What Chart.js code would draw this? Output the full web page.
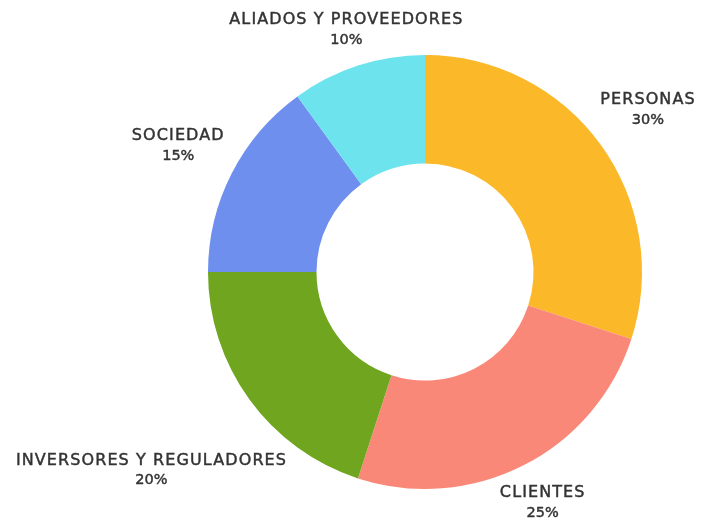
<!DOCTYPE html>
<html>
<head>
<meta charset="utf-8">
<script src="https://cdn.jsdelivr.net/npm/chart.js@4/dist/chart.umd.min.js"></script>
<style>
  html, body { margin: 0; padding: 0; background: #ffffff; }
  #wrap { width: 701px; height: 525px; }
</style>
</head>
<body>
<div id="wrap"><canvas id="c" width="701" height="525"></canvas></div>
<script>
// ---- data ----
const categories = ['Personas', 'Clientes', 'Inversores y reguladores', 'Sociedad', 'Aliados y proveedores'];
const shares = [30, 25, 20, 15, 10];
const sliceColors = ['#FBB829', '#FA8878', '#6FA51F', '#6E8FEE', '#6DE3EE'];
// ---- label style: distance of each label block from the centre, relative to the outer radius ----
const labelDistance = [1.27, 1.195, 1.558, 1.276, 1.172];

const labelPlugin = {
  id: 'outerLabels',
  afterDatasetsDraw(chart) {
    const ctx = chart.ctx;
    const meta = chart.getDatasetMeta(0);
    ctx.save();
    ctx.fillStyle = '#333333';
    ctx.strokeStyle = '#333333';
    ctx.lineWidth = 0.45;
    ctx.textAlign = 'center';
    ctx.textBaseline = 'middle';
    meta.data.forEach((arc, i) => {
      const p = arc.getProps(['x', 'y', 'startAngle', 'endAngle', 'outerRadius'], true);
      const mid = (p.startAngle + p.endAngle) / 2;
      const d = p.outerRadius * labelDistance[i];
      const cx = p.x + Math.cos(mid) * d;
      const cy = p.y + Math.sin(mid) * d;
      const name = categories[i].toUpperCase();
      const pct = shares[i] + '%';
      if ('letterSpacing' in ctx) ctx.letterSpacing = '1.1px';
      ctx.font = '16px "DejaVu Sans", sans-serif';
      ctx.fillText(name, cx, cy - 10);
      ctx.strokeText(name, cx, cy - 10);
      if ('letterSpacing' in ctx) ctx.letterSpacing = '0px';
      ctx.font = '14.5px "DejaVu Sans", sans-serif';
      ctx.fillText(pct, cx, cy + 10);
      ctx.strokeText(pct, cx, cy + 10);
    });
    ctx.restore();
  }
};

new Chart(document.getElementById('c'), {
  type: 'doughnut',
  data: {
    labels: categories,
    datasets: [{
      data: shares,
      backgroundColor: sliceColors,
      borderWidth: 0,
      hoverOffset: 0
    }]
  },
  options: {
    responsive: false,
    animation: false,
    cutout: '50%',
    layout: { padding: { top: 55, bottom: 36, left: 149, right: 0 } },
    plugins: {
      legend: { display: false },
      tooltip: { enabled: false }
    }
  },
  plugins: [labelPlugin]
});
</script>
</body>
</html>
